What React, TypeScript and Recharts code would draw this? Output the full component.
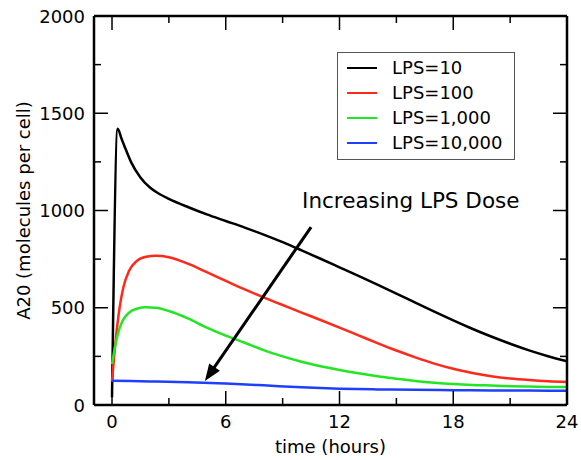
import React from 'react';
import { LineChart, Line, XAxis, YAxis, ReferenceLine } from 'recharts';

const FONT = '"DejaVu Sans", Verdana, sans-serif';

const xTicks = [0, 3, 6, 9, 12, 15, 18, 21, 24];
const yTicks = [0, 250, 500, 750, 1000, 1250, 1500, 1750, 2000];

// A20 levels (hours, molecules per cell)
const lps10Time = [0, 0.3, 0.5, 0.75, 1.0, 1.5, 2.0, 2.5, 3, 4, 5, 6, 7, 8, 9, 10, 11, 12, 13, 14, 15, 16, 17, 18, 19, 20, 21, 22, 23, 24];
const lps10Value = [40, 1420, 1370, 1308, 1250, 1170, 1118, 1085, 1060, 1018, 980, 946, 912, 876, 837, 795, 752, 708, 664, 619, 573, 526, 480, 435, 392, 352, 315, 281, 251, 225];

const lps100Time = [0, 0.2, 0.4, 0.6, 0.9, 1.3, 1.8, 2.3, 3, 4, 5, 6, 7, 8, 9, 10, 11, 12, 13, 14, 15, 16, 17, 18, 19, 20, 21, 22, 23, 24];
const lps100Value = [120, 340, 500, 605, 690, 740, 762, 767, 760, 727, 683, 638, 594, 553, 514, 475, 437, 398, 358, 318, 280, 245, 213, 186, 165, 148, 136, 128, 122, 118];

const lps1000Time = [0, 0.2, 0.4, 0.6, 0.9, 1.3, 1.8, 2.3, 3, 4, 5, 6, 7, 8, 9, 10, 11, 12, 13, 14, 15, 16, 17, 18, 19, 20, 21, 22, 23, 24];
const lps1000Value = [210, 320, 395, 440, 475, 495, 502, 500, 483, 445, 398, 357, 320, 282, 250, 222, 199, 180, 163, 148, 135, 124, 115, 108, 103, 100, 97, 95, 93, 92];

const lps10000Time = [0, 2, 4, 6, 8, 10, 12, 14, 16, 18, 20, 22, 24];
const lps10000Value = [125, 121, 117, 110, 101, 91, 84, 80, 78, 76, 75, 74, 73];

// arrow annotation end points, in data units
const arrowFrom = { t: 10.5, v: 915 };
const arrowTo = { t: 4.9, v: 123 };

const series = [
  { name: 'LPS=10', color: '#000000', time: lps10Time, value: lps10Value },
  { name: 'LPS=100', color: '#ff2a1a', time: lps100Time, value: lps100Value },
  { name: 'LPS=1,000', color: '#22e622', time: lps1000Time, value: lps1000Value },
  { name: 'LPS=10,000', color: '#1f3fff', time: lps10000Time, value: lps10000Value },
];

const toPoints = (time: number[], value: number[]) => time.map((t, i) => ({ t, v: value[i] }));

const textProps = { fontFamily: FONT, fontSize: 18, fill: '#000' };

const BottomTick = ({ x, y, payload }: any) => {
  const major = payload.value % 6 === 0;
  return (
    <g>
      <line x1={x} x2={x} y1={y} y2={y - (major ? 14 : 7)} stroke="#000" strokeWidth={1.5} />
      {major && (
        <text x={x} y={y + 23} textAnchor="middle" {...textProps}>
          {payload.value}
        </text>
      )}
    </g>
  );
};

const TopTick = ({ x, y, payload }: any) => {
  const major = payload.value % 6 === 0;
  return <line x1={x} x2={x} y1={y} y2={y + (major ? 14 : 7)} stroke="#000" strokeWidth={1.5} />;
};

const LeftTick = ({ x, y, payload }: any) => {
  const major = payload.value % 500 === 0;
  return (
    <g>
      <line x1={x} x2={x + (major ? 14 : 7)} y1={y} y2={y} stroke="#000" strokeWidth={1.5} />
      {major && (
        <text x={x - 9} y={y + 6.5} textAnchor="end" {...textProps}>
          {payload.value}
        </text>
      )}
    </g>
  );
};

const RightTick = ({ x, y, payload }: any) => {
  const major = payload.value % 500 === 0;
  return <line x1={x} x2={x - (major ? 14 : 7)} y1={y} y2={y} stroke="#000" strokeWidth={1.5} />;
};

const ArrowShape = (p: any) => {
  const { x1, y1, x2, y2 } = p;
  const ang = Math.atan2(y2 - y1, x2 - x1);
  const cos = Math.cos(ang);
  const sin = Math.sin(ang);
  const len = 17;
  const half = 6.5;
  const bx = x2 - len * cos;
  const by = y2 - len * sin;
  const pts = `${x2},${y2} ${bx - half * sin},${by + half * cos} ${bx + half * sin},${by - half * cos}`;
  return (
    <g>
      <line x1={x1} y1={y1} x2={bx + 2 * cos} y2={by + 2 * sin} stroke="#000" strokeWidth={3} />
      <polygon points={pts} fill="#000" />
      <text x={x1 - 9} y={y1 - 19} fontFamily={FONT} fontSize={21.5} fill="#000">
        Increasing LPS Dose
      </text>
    </g>
  );
};

export default function App() {
  return (
    <div style={{ position: 'absolute', left: 0, top: 0, width: 581, height: 460, background: '#fff' }}>
      <LineChart width={581} height={460} margin={{ top: 0, right: 0, bottom: 0, left: 0 }}>
        <XAxis
          xAxisId="bottom"
          type="number"
          dataKey="t"
          domain={[-0.95, 24]}
          allowDataOverflow
          ticks={xTicks}
          interval={0}
          height={55}
          tickSize={0}
          tickMargin={0}
          tickLine={false}
          tick={<BottomTick />}
          axisLine={{ stroke: '#000', strokeWidth: 2.5 }}
          label={{ value: 'time (hours)', position: 'insideBottom', offset: 7, style: { ...textProps } }}
        />
        <XAxis
          xAxisId="top"
          orientation="top"
          type="number"
          dataKey="t"
          domain={[-0.95, 24]}
          allowDataOverflow
          ticks={xTicks}
          interval={0}
          height={16}
          tickSize={0}
          tickMargin={0}
          tickLine={false}
          tick={<TopTick />}
          axisLine={{ stroke: '#000', strokeWidth: 2.5 }}
        />
        <YAxis
          yAxisId="left"
          type="number"
          domain={[0, 2000]}
          allowDataOverflow
          ticks={yTicks}
          interval={0}
          width={94}
          tickSize={0}
          tickMargin={0}
          tickLine={false}
          tick={<LeftTick />}
          axisLine={{ stroke: '#000', strokeWidth: 2.5 }}
          label={{
            value: 'A20 (molecules per cell)',
            angle: -90,
            position: 'insideLeft',
            offset: 24,
            style: { ...textProps, textAnchor: 'middle' },
          }}
        />
        <YAxis
          yAxisId="right"
          orientation="right"
          type="number"
          domain={[0, 2000]}
          allowDataOverflow
          ticks={yTicks}
          interval={0}
          width={14}
          tickSize={0}
          tickMargin={0}
          tickLine={false}
          tick={<RightTick />}
          axisLine={{ stroke: '#000', strokeWidth: 2.5 }}
        />
        {series.map((s) => (
          <Line
            key={s.name}
            xAxisId="bottom"
            yAxisId="left"
            data={toPoints(s.time, s.value)}
            dataKey="v"
            name={s.name}
            type="monotone"
            stroke={s.color}
            strokeWidth={2.5}
            dot={false}
            activeDot={false}
            isAnimationActive={false}
          />
        ))}
        <ReferenceLine
          xAxisId="bottom"
          yAxisId="left"
          segment={[
            { x: arrowFrom.t, y: arrowFrom.v },
            { x: arrowTo.t, y: arrowTo.v },
          ]}
          shape={ArrowShape}
        />
      </LineChart>
      <div
        style={{
          position: 'absolute',
          left: 337,
          top: 52,
          width: 178,
          height: 108,
          boxSizing: 'border-box',
          border: '1.5px solid #555',
          background: '#fff',
          fontFamily: FONT,
          fontSize: 18,
          paddingTop: 2,
        }}
      >
        {series.map((s) => (
          <div key={s.name} style={{ display: 'flex', alignItems: 'center', height: 25, paddingLeft: 9 }}>
            <span style={{ display: 'inline-block', width: 30, borderTop: `2.5px solid ${s.color}`, marginRight: 15 }} />
            <span style={{ lineHeight: '25px' }}>{s.name}</span>
          </div>
        ))}
      </div>
    </div>
  );
}
